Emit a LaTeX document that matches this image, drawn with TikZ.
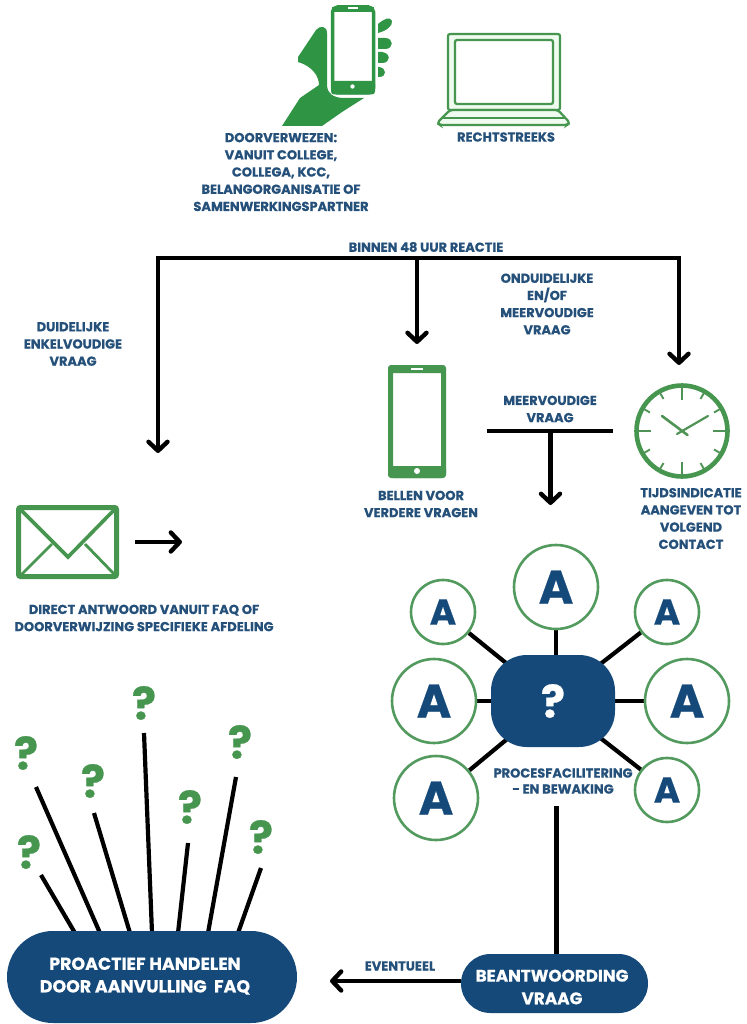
\documentclass[tikz,border=0pt]{standalone}
\usepackage{fontspec}
\setmainfont{Poppins}[BoldFont={* Bold},BoldFeatures={FakeBold=0.5}]
\usetikzlibrary{arrows.meta,shapes.misc,backgrounds}
\definecolor{navy}{HTML}{14497A}
\definecolor{lbl}{HTML}{24507A}
\definecolor{grn}{HTML}{46964F}
\definecolor{ringc}{HTML}{529A5E}
\definecolor{hand}{HTML}{2F9444}
\definecolor{pale}{HTML}{EEFBEE}
\tikzset{
 x=1pt,y=-1pt,
 lab/.style={text=lbl,font=\bfseries\fontsize{13}{17.2}\selectfont,align=center,inner sep=0pt},
 conn/.style={line width=4.2pt,black},
 barb/.style={-{Straight Barb[length=9pt,width=19pt,line width=4.4pt,round]}},
 arr/.style={conn,barb},
 ring/.style={circle,draw=ringc,line width=2.6pt,fill=white,text=navy,inner sep=0pt},
 bigring/.style={ring,minimum size=84pt,font=\bfseries\fontsize{47}{47}\selectfont},
 smallring/.style={ring,minimum size=64pt,font=\bfseries\fontsize{36}{36}\selectfont},
 qm/.style={text=grn,font=\bfseries\fontsize{45}{45}\selectfont,inner sep=0pt},
 pill/.style={rounded rectangle,fill=navy,inner sep=0pt},
 pilltext/.style={text=white,font=\bfseries\fontsize{17.4}{22.6}\selectfont,align=center,inner sep=0pt},
 gline/.style={draw=grn,line width=3pt},
 lap/.style={draw=grn,line width=2.2pt,rounded corners=2pt},
}
\begin{document}
\begin{tikzpicture}
\useasboundingbox (0,0) rectangle (746,1024);
\begin{scope}[on background layer]
\fill[white] (0,0) rectangle (746,1024);
\end{scope}
% hand with phone
\fill[hand,line join=round] (282,126) -- (300,98) -- (319,85) .. controls (319,76) and (312,66) .. (298,62) -- (298,57) -- (316,30) .. controls (320,25) and (327,26) .. (327,33) -- (327,86) .. controls (328,94) and (333,97) .. (342,98) -- (364,98) -- (342,112) -- (322,126) -- cycle;
\draw[hand,line width=3.5pt,rounded corners=5pt,fill=white] (332.5,7) rectangle (373.5,93);
\fill[hand] (332,7) rectangle (374,12);
\fill[hand,rounded corners=3pt] (331,81) rectangle (375,94.5);
\fill[white] (352.5,86.5) circle (2.2pt);
\fill[white] (348,7.2) rectangle (358,9);
\fill[hand] (378,24) .. controls (384,19) and (390,16) .. (392,21) .. controls (393,26) and (386,31) .. (378,33) -- cycle;
\fill[hand] (378,38) -- (385,38) .. controls (394,38) and (394,49) .. (385,49) -- (378,49) -- cycle;
\fill[hand] (378,52) -- (382,52) .. controls (391,53) and (391,63) .. (382,63) -- (378,63) -- cycle;
\fill[hand] (378,67) -- (379,67) .. controls (387,68) and (387,77) .. (379,77) -- (378,77) -- cycle;
% laptop
\path[lap,fill=pale] (448,34) rectangle (560,110);
\path[lap,fill=white] (455,40) rectangle (553,104);
\path[lap,fill=pale,rounded corners=3pt] (450,110) -- (558,110) -- (570,123) -- (567,125) -- (440,125) -- (437,123) -- cycle;
\draw[grn,line width=2pt] (441,118.5) -- (566,118.5);
% top labels
\node[lab] (verw) at (281,172) {DOORVERWEZEN:\\VANUIT COLLEGE,\\COLLEGA, KCC,\\BELANGORGANISATIE OF\\SAMENWERKINGSPARTNER};
\node[lab] (recht) at (506,137) {RECHTSTREEKS};
\node[lab] (binnen) at (426,247) {BINNEN 48 UUR REACTIE};
\node[lab] (ond) at (547,304) {ONDUIDELIJKE\\EN/OF\\MEERVOUDIGE\\VRAAG};
\node[lab] (duid) at (73,344) {DUIDELIJKE\\ENKELVOUDIGE\\VRAAG};
% split connector
\coordinate (bl) at (158,258);
\coordinate (br) at (679,258);
\coordinate (bm) at (417,258);
\coordinate (el) at (158,453);
\coordinate (em) at (417,344);
\coordinate (er) at (679,365);
\draw[conn,line cap=rect] (bl) -- (br);
\draw[arr] (bl) -- (el);
\draw[arr] (bm) -- (em);
\draw[arr] (br) -- (er);
% phone
\draw[gline,line width=5pt,rounded corners=3pt] (390.5,367.5) rectangle (443.5,475.5);
\fill[grn,rounded corners=3pt] (388,365) rectangle (446,373);
\fill[grn,rounded corners=3pt] (388,466) rectangle (446,478);
\fill[white] (417,471) circle (3pt);
\fill[white] (411,367.8) rectangle (423,370.4);
\node[lab] (bellen) at (421,504) {BELLEN VOOR\\VERDERE VRAGEN};
% T connector
\coordinate (tl) at (487,431);
\coordinate (tr) at (613,431);
\coordinate (tm) at (550.5,431);
\coordinate (te) at (550.5,505);
\draw[conn,line width=4.6pt] (tl) -- (tr);
\draw[arr] (tm) -- (te);
\node[lab] (meer) at (550,409) {MEERVOUDIGE\\VRAAG};
% clock
\node[circle,draw=grn,line width=4.6pt,minimum size=91pt,inner sep=0pt] (clock) at (682,431) {};
\foreach \a in {0,90,180,270}
  \draw[grn!85!gray,line width=1.9pt] (682,431) ++(\a:45) -- ++(\a:-14);
\foreach \a in {30,60,120,150,210,240,300,330}
  \draw[grn!85!gray,line width=1.9pt] (682,431) ++(\a:45) -- ++(\a:-8);
\draw[grn!85!gray,line width=2.6pt,line cap=round] (662,416) -- (687.5,435);
\draw[grn!85!gray,line width=2.2pt,line cap=round] (677,434) -- (708,416);
\node[lab] (tijd) at (691,518.5) {TIJDSINDICATIE\\AANGEVEN TOT\\VOLGEND\\CONTACT};
% envelope
\draw[gline,line width=5pt,rounded corners=2pt,fill=white] (18.5,507.5) rectangle (116.5,576.5);
\draw[grn,line width=3.6pt] (20,509) -- (68,557) -- (115,509);
\draw[grn,line width=2.8pt] (52,544) -- (21,575);
\draw[grn,line width=2.8pt] (85,544) -- (115,575);
\coordinate (ma) at (135,542);
\coordinate (mb) at (182,542);
\draw[arr] (ma) -- (mb);
\node[lab] (dir) at (144,618) {DIRECT ANTWOORD VANUIT FAQ OF\\DOORVERWIJZING SPECIFIEKE AFDELING};
% hub
\node[smallring] (a1) at (443,612) {A};
\node[bigring] (a2) at (556,587) {A};
\node[smallring] (a3) at (667,612) {A};
\node[bigring] (a4) at (434,701) {A};
\node[bigring] (a5) at (687,701) {A};
\node[bigring] (a6) at (436,798) {A};
\node[smallring] (a7) at (667,790) {A};
\node[fill=navy,rounded corners=36pt,minimum width=124pt,minimum height=92pt,inner sep=0pt,text=white,font=\bfseries\fontsize{45}{45}\selectfont] (hub) at (553,701) {?};
\begin{scope}[on background layer]
\draw[conn] (a1) -- (hub.center);
\draw[conn] (a2) -- (a2 |- hub.center);
\draw[conn] (a3) -- (hub.center);
\draw[conn] (a4) -- (hub.center);
\draw[conn] (a5) -- (hub.center);
\draw[conn] (a6) -- (hub.center);
\draw[conn] (a7) -- (hub.center);
\end{scope}
\node[lab,font=\bfseries\fontsize{13}{16}\selectfont] (proc) at (563,781) {PROCESFACILITERING\\- EN BEWAKING};
% bottom
\node[pill,minimum width=187pt,minimum height=59pt] (beant) at (554.5,983.5) {};
\node[pilltext,font=\bfseries\fontsize{16.8}{22.6}\selectfont] (beanttxt) at (552,987) {BEANTWOORDING\\VRAAG};
\node[pill,minimum width=290pt,minimum height=92pt] (pro) at (152,977) {};
\node[pilltext] (protxt) at (145,976) {PROACTIEF HANDELEN\\DOOR AANVULLING\ \ FAQ};
\coordinate (ps) at (556.5,806);
\coordinate (ar) at (330,981);
\draw[conn] (ps) -- (ps |- beant.north);
\draw[arr] (beant.west |- ar) -- (ar);
\node[lab] (event) at (400,966) {EVENTUEEL};
% question marks & rays
\node[qm] (q1) at (29,852) {?};
\node[qm] (q2) at (26,753) {?};
\node[qm] (q3) at (93,781) {?};
\node[qm] (q4) at (144,703) {?};
\node[qm] (q5) at (190,807) {?};
\node[qm] (q6) at (240,742) {?};
\node[qm] (q7) at (261,837) {?};
\coordinate (r1) at (41,875);
\coordinate (r2) at (36,787);
\coordinate (r3) at (94,813);
\coordinate (r4) at (144,733);
\coordinate (r5) at (188,843);
\coordinate (r6) at (236,777);
\coordinate (r7) at (261,868);
\coordinate (b1) at (75,933);
\coordinate (b2) at (100,933);
\coordinate (b3) at (130,933);
\coordinate (b4) at (152,933);
\coordinate (b5) at (178,933);
\coordinate (b6) at (208,933);
\coordinate (b7) at (238,933);
\begin{scope}[on background layer]
\foreach \i in {1,...,7} \draw[conn] (r\i) -- (b\i);
\end{scope}
\end{tikzpicture}
\end{document}
